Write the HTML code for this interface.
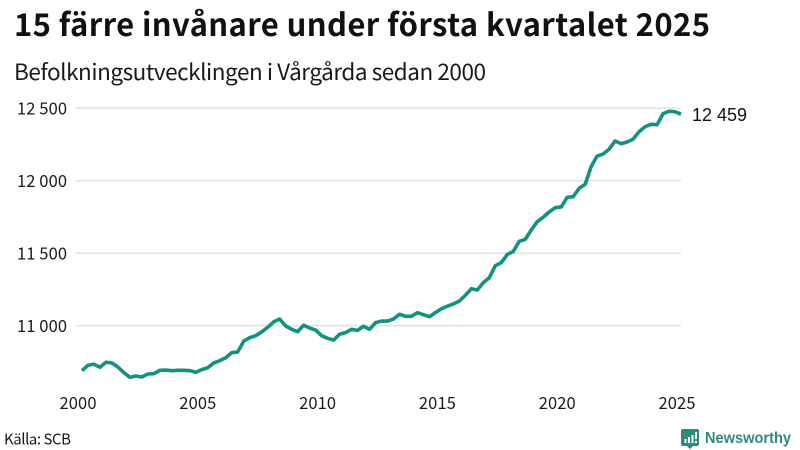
<!DOCTYPE html>
<html lang="sv">
<head>
<meta charset="utf-8">
<title>15 färre invånare under första kvartalet 2025</title>
<style>
html,body{margin:0;padding:0;background:#fff;width:800px;height:450px;overflow:hidden}
svg{display:block}
text{font-family:"Noto Sans CJK JP","Liberation Sans",sans-serif;fill:#1a1a1a}
</style>
</head>
<body>
<svg id="chart" width="800" height="450" viewBox="0 0 800 450" xmlns="http://www.w3.org/2000/svg">
  <text x="14" y="36" font-size="31" font-weight="700" fill="#111" textLength="696" lengthAdjust="spacing" style="fill:#111">15 färre invånare under första kvartalet 2025</text>
  <text x="14" y="80" font-size="22.5" textLength="472" lengthAdjust="spacing">Befolkningsutvecklingen i Vårgårda sedan 2000</text>
  <g id="grid"></g>
  <g id="yticks"></g>
  <g id="xticks"></g>
  <path id="line" fill="none" stroke="#13937f" stroke-width="3.6" stroke-linejoin="round" stroke-linecap="butt"></path>
  <text id="endLabel" x="692" font-size="18" style="font-family:'Liberation Sans',sans-serif;fill:#111"></text>
  <text x="4" y="444.5" font-size="15" textLength="67" lengthAdjust="spacing">Källa: SCB</text>
  <g>
    <path d="M683 429h14a2 2 0 0 1 2 2v13a2 2 0 0 1-2 2h-4l-3 3-3-3h-4a2 2 0 0 1-2-2v-13a2 2 0 0 1 2-2z" fill="#2e8b7e"></path>
    <rect x="684.5" y="439" width="2" height="4" fill="#fff"></rect>
    <rect x="688" y="437" width="2" height="6" fill="#fff"></rect>
    <rect x="691.5" y="435" width="2" height="8" fill="#fff"></rect>
    <rect x="695" y="432" width="2" height="7" fill="#fff"></rect>
    <rect x="695" y="441" width="2" height="2" fill="#fff"></rect>
    <text x="705" y="443" font-size="16" font-weight="700" textLength="86" lengthAdjust="spacingAndGlyphs" style="font-family:'Liberation Sans',sans-serif;fill:#2e8b7e">Newsworthy</text>
  </g>
</svg>
<script>
const startYear = 2000;
const population = [
  10690,10727,10734,10713,10748,10743,10715,10676,10644,10653,
  10646,10667,10669,10692,10694,10690,10692,10692,10690,10679,
  10697,10710,10743,10759,10779,10814,10819,10894,10917,10931,
  10957,10989,11026,11046,10998,10975,10959,11003,10984,10970,
  10931,10913,10901,10941,10952,10975,10968,10996,10975,11021,
  11032,11032,11046,11079,11065,11065,11090,11076,11062,11090,
  11117,11134,11150,11170,11210,11255,11246,11297,11331,11414,
  11435,11491,11512,11582,11595,11660,11717,11748,11784,11814,
  11819,11886,11890,11948,11975,12097,12170,12184,12217,12274,
  12255,12267,12286,12338,12372,12389,12386,12462,12479,12476,
  12459
];
const yTickValues = [11000,11500,12000,12500];
const yTickLabels = ["11 000","11 500","12 000","12 500"];
const xTickYears = [2000,2005,2010,2015,2020,2025];
const lastValueLabel = "12 459";

const NS = "http://www.w3.org/2000/svg";
function xScale(year){ return 82 + (year - 2000) * 23.96; }
function yScale(v){ return 325.7 - (v - 11000) * 0.145; }
function quarterYear(i){ return startYear + i / 4; }

const grid = document.getElementById("grid");
const yticks = document.getElementById("yticks");
yTickValues.forEach(function(v, i){
  const l = document.createElementNS(NS, "line");
  
  
  l.setAttribute("x1", 76);
  l.setAttribute("x2", 681);
  l.setAttribute("y1", yScale(v));
  l.setAttribute("y2", yScale(v));
  l.setAttribute("stroke", "#e3e3e8");
  l.setAttribute("stroke-width", 1.6);
  grid.appendChild(l);
  const t = document.createElementNS(NS, "text");
  
  
  t.setAttribute("x", 17);
  t.setAttribute("y", yScale(v) + 6.5);
  t.setAttribute("font-size", 16.5);
  t.setAttribute("textLength", 50);
  t.textContent = yTickLabels[i];
  yticks.appendChild(t);
});

const xticks = document.getElementById("xticks");
xTickYears.forEach(function(y){
  const t = document.createElementNS(NS, "text");
  
  
  t.setAttribute("x", xScale(y) - 4);
  t.setAttribute("y", 409);
  t.setAttribute("text-anchor", "middle");
  t.setAttribute("font-size", 16.5);
  t.setAttribute("textLength", 37);
  t.textContent = y;
  xticks.appendChild(t);
});

let d = "";
population.forEach(function(v, i){
  d += (i ? "L" : "M") + xScale(quarterYear(i)).toFixed(2) + " " + yScale(v).toFixed(2);
});
document.getElementById("line").setAttribute("d", d);

const endLabel = document.getElementById("endLabel");
endLabel.setAttribute("y", yScale(population[population.length - 1]) + 7);
endLabel.textContent = lastValueLabel;
</script>
</body>
</html>
